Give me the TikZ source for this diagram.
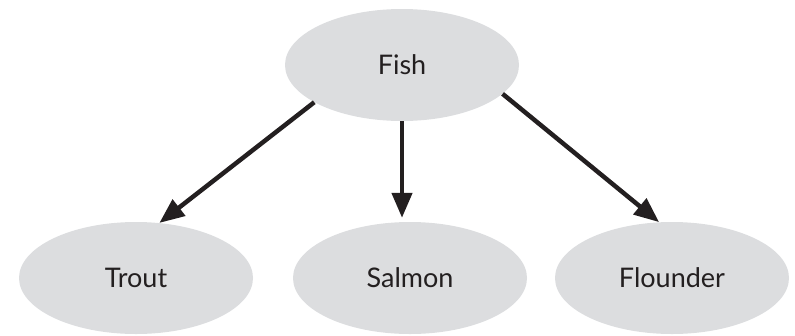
\documentclass[tikz,border=0pt]{standalone}
\usepackage{fontspec}
\setmainfont{Lato}
\usetikzlibrary{arrows.meta,shapes.geometric}
\definecolor{nodefill}{HTML}{DCDDDF}
\definecolor{ink}{HTML}{231F20}
\tikzset{
  fishnode/.style={ellipse, fill=nodefill, draw=none, minimum width=234pt, minimum height=112pt, inner sep=0pt, text=ink, font=\fontsize{27}{30}\selectfont},
  arr/.style={draw=ink, line width=4.5pt, -{Triangle[length=25pt,width=20pt]}}
}
\begin{document}
\begin{tikzpicture}[x=1pt,y=-1pt]
\useasboundingbox (0,0) rectangle (795,335);
\node[fishnode] (fish) at (402,65) {Fish};
\node[fishnode] (trout) at (136,278) {Trout};
\node[fishnode] (salmon) at (410,278) {Salmon};
\node[fishnode] (flounder) at (672,278) {Flounder};
\draw[arr] (fish.203) -- (trout.67);
\draw[arr, shorten >=4pt] (fish.south) -- (fish.south |- salmon.north);
\draw[arr] (fish.344) -- (flounder.103);
\end{tikzpicture}
\end{document}
